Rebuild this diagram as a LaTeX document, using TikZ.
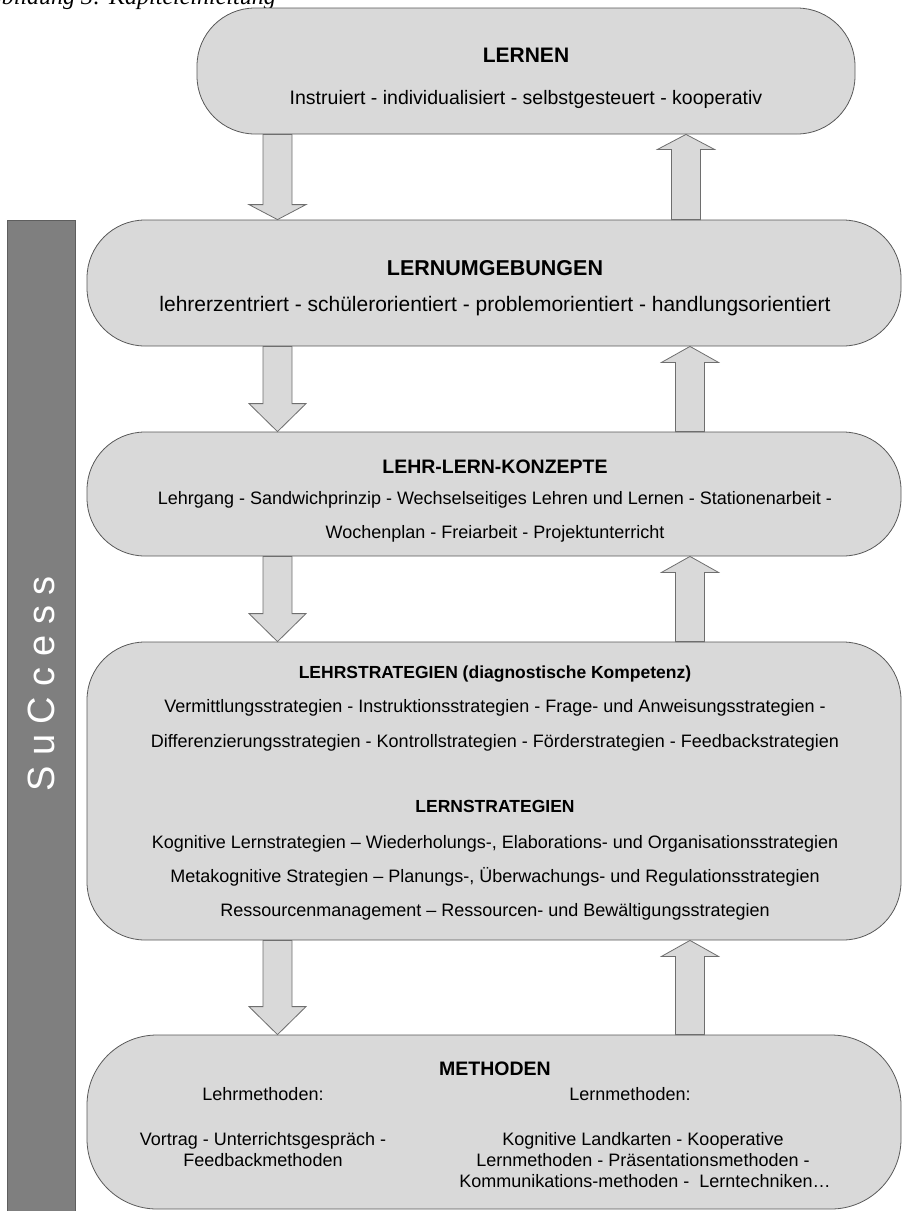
\documentclass[tikz,border=0pt]{standalone}
\usepackage{fontspec}
\setmainfont{Liberation Sans}
\newfontfamily\capfont{Liberation Serif}
\usepackage{tikz}
\usetikzlibrary{positioning,calc}
\definecolor{boxfill}{HTML}{D9D9D9}
\definecolor{boxline}{HTML}{595959}
\definecolor{arrline}{HTML}{6E6E6E}
\definecolor{barfill}{HTML}{7F7F7F}
\definecolor{barline}{HTML}{5E5E5E}
\tikzset{
  stage/.style={draw=boxline, fill=boxfill, line width=0.8pt, rounded corners=58pt, inner sep=0pt},
  stagetitle/.style={font=\bfseries\fontsize{19.5}{23}\selectfont, anchor=base},
  subhead/.style={font=\bfseries\fontsize{17.5}{20}\selectfont, anchor=base},
  bodyline/.style={font=\fontsize{18}{21}\selectfont, anchor=base},
  bigline/.style={font=\fontsize{20}{24}\selectfont, anchor=base},
  blockarr/.style={draw=arrline, fill=boxfill, line width=0.8pt, line join=miter},
  successbar/.style={draw=barline, fill=barfill, line width=0.8pt}
}
% block arrows: #1 = x, #2 = from node, #3 = to node, #4 = head length
\newcommand{\blockdown}[4]{%
  \draw[blockarr] let \p1=(#2.south), \p2=(#3.north) in
    (#1pt-14.5pt,\y1) -- (#1pt+14.5pt,\y1) -- (#1pt+14.5pt,\y2+#4pt)
    -- (#1pt+28.5pt,\y2+#4pt) -- (#1pt,\y2) -- (#1pt-28.5pt,\y2+#4pt)
    -- (#1pt-14.5pt,\y2+#4pt) -- cycle;}
\newcommand{\blockup}[4]{%
  \draw[blockarr] let \p1=(#2.north), \p2=(#3.south) in
    (#1pt-14.5pt,\y1) -- (#1pt+14.5pt,\y1) -- (#1pt+14.5pt,\y2-#4pt)
    -- (#1pt+28.5pt,\y2-#4pt) -- (#1pt,\y2) -- (#1pt-28.5pt,\y2-#4pt)
    -- (#1pt-14.5pt,\y2-#4pt) -- cycle;}

\begin{document}
\begin{tikzpicture}[x=1pt, y=1pt]
  \useasboundingbox (0,0) rectangle (904,-1211);
  \clip (0,0) rectangle (904,-1211);

  % caption, cut at the top
  \node[anchor=base east, inner sep=0pt, font=\capfont\itshape\fontsize{24}{28}\selectfont] (caption) at (276,-4) {Abbildung 3: Kapiteleinleitung};

  % SuCcess bar
  \draw[successbar] (7,-220) rectangle (75,-1225);
  \node[rotate=90, text=white, font=\fontsize{38}{40}\selectfont] (success) at (41,-684) {S u C c e s s};

  % stages
  \node[stage, minimum width=658pt, minimum height=126pt] (lernen) at (526,-71) {};
  \node[stage, minimum width=814pt, minimum height=126pt] (umgeb) at (494,-283) {};
  \node[stage, minimum width=814pt, minimum height=124pt] (konzepte) at (494,-494) {};
  \node[stage, minimum width=814pt, minimum height=298pt] (strat) at (494,-791) {};
  \node[stage, minimum width=814pt, minimum height=174pt, rounded corners=70pt] (methoden) at (494,-1122) {};

  \node[stagetitle, font=\bfseries\fontsize{21}{24}\selectfont] (lernentitle) at (526,-62) {LERNEN};
  \node[bigline, font=\fontsize{19.5}{23}\selectfont] (lernentext) at (526,-104) {Instruiert - individualisiert - selbstgesteuert - kooperativ};

  \node[stagetitle, font=\bfseries\fontsize{21.5}{25}\selectfont] (umgebtitle) at (495,-275) {LERNUMGEBUNGEN};
  \node[bigline, font=\fontsize{21}{25}\selectfont] (umgebtext) at (495,-311) {lehrerzentriert - schülerorientiert - problemorientiert - handlungsorientiert};

  \node[stagetitle] (konzeptetitle) at (495,-473) {LEHR-LERN-KONZEPTE};
  \node[bodyline] (konzepteA) at (495,-504) {Lehrgang - Sandwichprinzip - Wechselseitiges Lehren und Lernen - Stationenarbeit -};
  \node[bodyline] (konzepteB) at (495,-538) {Wochenplan - Freiarbeit - Projektunterricht};

  \node[subhead] (lehrtitle) at (495,-678) {LEHRSTRATEGIEN (diagnostische Kompetenz)};
  \node[bodyline] (lehrA) at (495,-712) {Vermittlungsstrategien - Instruktionsstrategien - Frage- und Anweisungsstrategien -};
  \node[bodyline] (lehrB) at (495,-747) {Differenzierungsstrategien - Kontrollstrategien - Förderstrategien - Feedbackstrategien};

  \node[subhead] (lerntitle) at (495,-812) {LERNSTRATEGIEN};
  \node[bodyline] (lernA) at (495,-848) {Kognitive Lernstrategien -- Wiederholungs-, Elaborations- und Organisationsstrategien};
  \node[bodyline] (lernB) at (495,-882) {Metakognitive Strategien -- Planungs-, Überwachungs- und Regulationsstrategien};
  \node[bodyline] (lernC) at (495,-916) {Ressourcenmanagement -- Ressourcen- und Bewältigungsstrategien};

  \node[stagetitle] (methtitle) at (495,-1075) {METHODEN};
  \node[bodyline] (lehrmeth) at (263,-1100) {Lehrmethoden:};
  \node[bodyline] (lernmeth) at (630,-1100) {Lernmethoden:};
  \node[bodyline] (lehrmethA) at (263,-1145) {Vortrag - Unterrichtsgespräch -};
  \node[bodyline] (lehrmethB) at (263,-1166) {Feedbackmethoden};
  \node[bodyline] (lernmethA) at (643,-1145) {Kognitive Landkarten - Kooperative};
  \node[bodyline] (lernmethB) at (643,-1166) {Lernmethoden - Präsentationsmethoden -};
  \node[bodyline] (lernmethC) at (645,-1187) {Kommunikations-methoden -\ \ Lerntechniken\dots};

  % arrows between the stages
  \blockdown{277.5}{lernen}{umgeb}{15}
  \blockup{686}{umgeb}{lernen}{15}
  \blockdown{277.5}{umgeb}{konzepte}{28}
  \blockup{690}{konzepte}{umgeb}{16}
  \blockdown{277.5}{konzepte}{strat}{28}
  \blockup{690}{strat}{konzepte}{16}
  \blockdown{277.5}{strat}{methoden}{28}
  \blockup{690}{methoden}{strat}{16}
\end{tikzpicture}
\end{document}
